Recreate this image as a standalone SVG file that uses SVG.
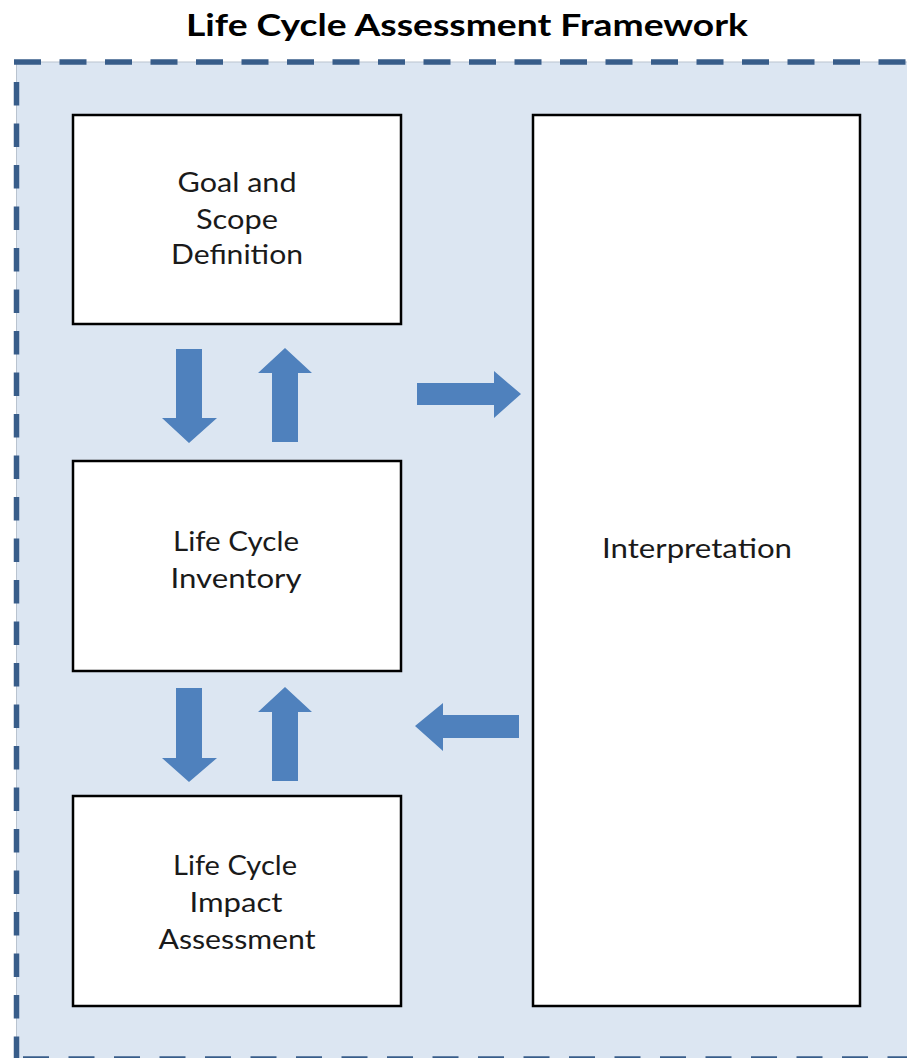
<svg xmlns="http://www.w3.org/2000/svg" width="907" height="1058" viewBox="0 0 907 1058">
  <defs>
    <style>
      .title { font-family: Lato, "Liberation Sans", sans-serif; font-weight: bold; font-size: 31px; fill: #000; }
      .lbl { font-family: Lato, "Liberation Sans", sans-serif; font-size: 27px; fill: #1a1a1a; text-anchor: middle; }
      .box { fill: #ffffff; stroke: #000; stroke-width: 2.5; }
      .arrow { fill: #4f81bd; }
      .dash { stroke: #385d8a; stroke-width: 5.5; fill: none; }
      .edge { stroke: #b9c3cf; stroke-width: 1; fill: none; }
    </style>
  </defs>
  <rect width="907" height="1058" fill="#ffffff"/>
  <text class="title" x="186" y="36" textLength="562" lengthAdjust="spacingAndGlyphs">Life Cycle Assessment Framework</text>

  <g id="frame">
    <rect x="16.5" y="62" width="900" height="1010" fill="#dce6f2"/>
    <line class="edge" x1="16.5" y1="62" x2="907" y2="62"/>
    <line class="edge" x1="16.5" y1="62" x2="16.5" y2="1058"/>
    <line class="dash" x1="14" y1="62" x2="907" y2="62" stroke-dasharray="27 18.5"/>
    <line class="dash" x1="16.5" y1="82" x2="16.5" y2="1058" stroke-dasharray="23.5 18"/>
    <line class="dash" x1="23" y1="1059" x2="907" y2="1059" stroke-dasharray="26 19.5"/>
  </g>

  <g id="goal">
    <rect class="box" x="73" y="115" width="328" height="209"/>
    <text class="lbl" x="237" y="192" textLength="119" lengthAdjust="spacingAndGlyphs">Goal and</text>
    <text class="lbl" x="237" y="229" textLength="82" lengthAdjust="spacingAndGlyphs">Scope</text>
    <text class="lbl" x="237" y="264" textLength="132" lengthAdjust="spacingAndGlyphs">Definition</text>
  </g>

  <g id="inventory">
    <rect class="box" x="73" y="461" width="328" height="210"/>
    <text class="lbl" x="236" y="551" textLength="126" lengthAdjust="spacingAndGlyphs">Life Cycle</text>
    <text class="lbl" x="236" y="588" textLength="131" lengthAdjust="spacingAndGlyphs">Inventory</text>
  </g>

  <g id="impact">
    <rect class="box" x="73" y="796" width="328" height="210"/>
    <text class="lbl" x="235" y="875" textLength="124" lengthAdjust="spacingAndGlyphs">Life Cycle</text>
    <text class="lbl" x="236" y="912" textLength="93" lengthAdjust="spacingAndGlyphs">Impact</text>
    <text class="lbl" x="237" y="949" textLength="157" lengthAdjust="spacingAndGlyphs">Assessment</text>
  </g>

  <g id="interpretation">
    <rect class="box" x="533" y="115" width="327" height="891"/>
    <text class="lbl" x="697" y="558" textLength="190" lengthAdjust="spacingAndGlyphs">Interpretation</text>
  </g>

  <g id="connectors">
    <polygon class="arrow" points="176,349 202,349 202,418 217,418 189,443 162,418 176,418"/>
    <polygon class="arrow" points="285,348 312,373 298,373 298,442 272,442 272,373 258,373"/>
    <polygon class="arrow" points="176,688 202,688 202,758 217,758 189,782 162,758 176,758"/>
    <polygon class="arrow" points="285,687 312,712 298,712 298,781 272,781 272,712 258,712"/>
    <polygon class="arrow" points="417,383 494,383 494,371 521,394 494,418 494,405 417,405"/>
    <polygon class="arrow" points="415,726 443,703 443,715 519,715 519,738 443,738 443,751"/>
  </g>
</svg>
